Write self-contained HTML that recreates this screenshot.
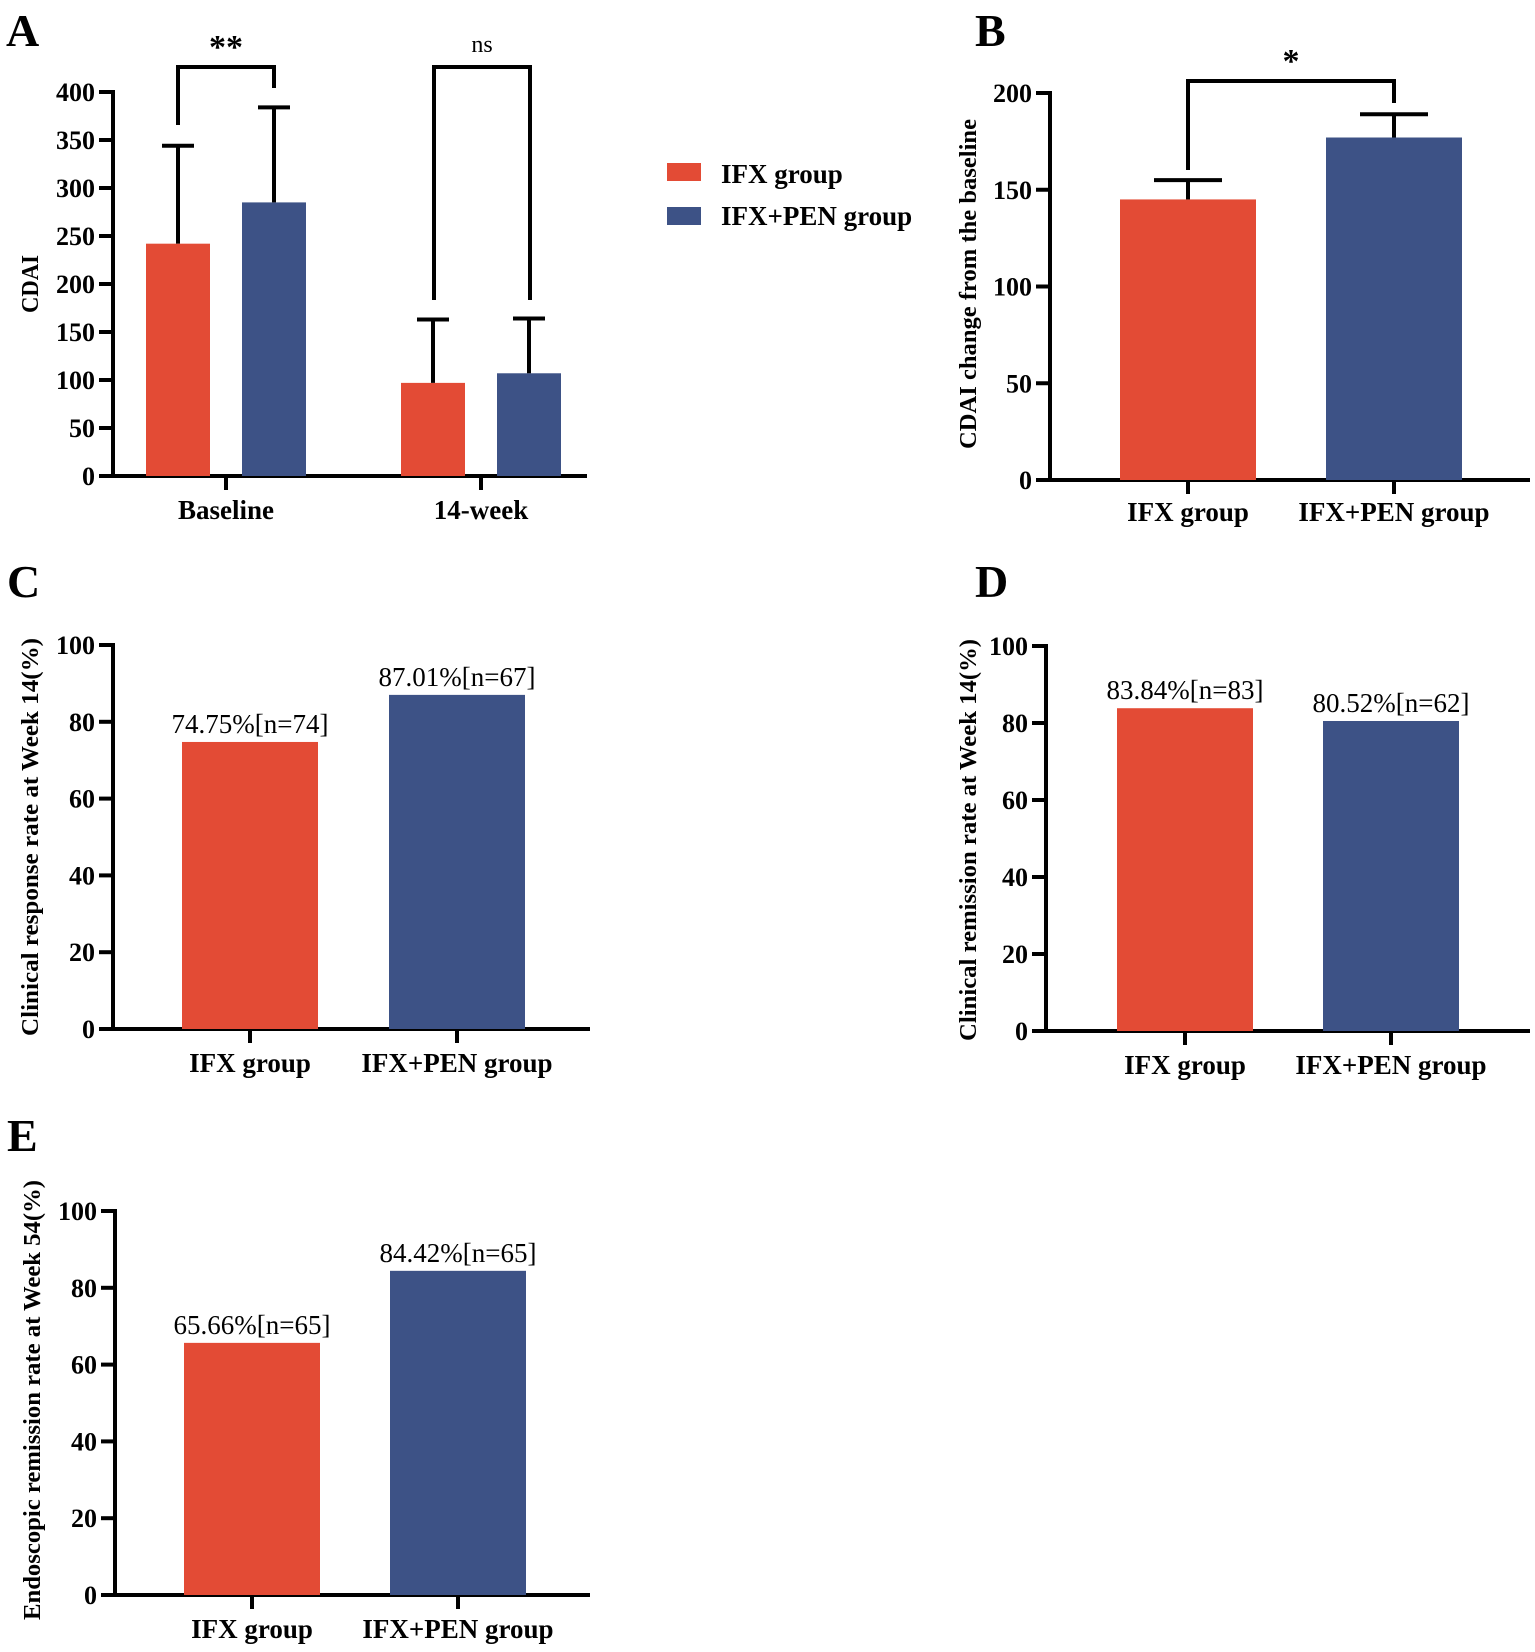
<!DOCTYPE html>
<html><head><meta charset="utf-8">
<style>
html,body{margin:0;padding:0;background:#fff;}
svg{display:block;font-family:"Liberation Serif","Times New Roman",serif;}
</style></head>
<body>
<svg id="chart" width="1535" height="1652" viewBox="0 0 1535 1652" xmlns="http://www.w3.org/2000/svg"></svg>
<script>
const groups = ["IFX group", "IFX+PEN group"];
const colors = ["#E34B35", "#3D5286"];
// Panel A
const aCategories = ["Baseline", "14-week"];
const aMeans = [[242, 285], [97, 107]];
const aErrTop = [[344, 384], [163, 164]];
const aTicks = [0, 50, 100, 150, 200, 250, 300, 350, 400];
const aSig = ["**", "ns"];
// Panel B
const bMeans = [145, 177];
const bErrTop = [155, 189];
const bTicks = [0, 50, 100, 150, 200];
// Panels C, D, E
const cValues = [74.75, 87.01];
const cLabels = ["74.75%[n=74]", "87.01%[n=67]"];
const dValues = [83.84, 80.52];
const dLabels = ["83.84%[n=83]", "80.52%[n=62]"];
const eValues = [65.66, 84.42];
const eLabels = ["65.66%[n=65]", "84.42%[n=65]"];
const pctTicks = [0, 20, 40, 60, 80, 100];

const svg = document.getElementById('chart');
const NS = "http://www.w3.org/2000/svg";
function mk(tag, attrs, parent, text) {
  const e = document.createElementNS(NS, tag);
  for (const k in attrs) e.setAttribute(k, attrs[k]);
  if (text !== undefined) e.textContent = text;
  (parent || svg).appendChild(e);
  return e;
}
function line(x1,y1,x2,y2,p,w){ return mk('line',{x1,y1,x2,y2,stroke:'#000','stroke-width':w||4},p); }

function axes(g, ax, y0, yTop, xEnd, ticks, vmax, catX, cats, labelBase) {
  const ys = v => y0 - (y0 - yTop) * v / vmax;
  const yl = line(ax, yTop-2, ax, y0+2, g);
  
  
  const xl = line(ax-14, y0, xEnd, y0, g);
  
  
  ticks.forEach(t => {
    const tk = line(ax-14, ys(t), ax, ys(t), g);
    
    
    const tl = mk('text', {x: ax-18, y: ys(t)+9, 'text-anchor':'end','font-size':26,'font-weight':'bold'}, g, String(t));
    
    
  });
  catX.forEach((cx, i) => {
    const tk = line(cx, y0, cx, y0+14, g);
    
    
    const cl = mk('text', {x: cx, y: labelBase, 'text-anchor':'middle','font-size':27,'font-weight':'bold'}, g, cats[i]);
    
    
  });
  return ys;
}
function ytitle(g, x, cy, text, len) {
  const t = mk('text', {x: 0, y: 0, transform:`translate(${x},${cy}) rotate(-90)`, 'text-anchor':'middle','font-size':24,'font-weight':'bold', textLength: len, lengthAdjust:'spacingAndGlyphs'}, g, text);
  
  
}
function letter(g, x, y, s) {
  const t = mk('text', {x, y, 'font-size':46,'font-weight':'bold'}, g, s);
  
  
}
function bar(g, cx, hw, ys, v, color) {
  const r = mk('rect', {x: cx-hw, y: ys(v), width: hw*2, height: ys(0)-ys(v), fill: color}, g);
  
  
}
function errbar(g, cx, hw, ys, v, top) {
  const e = mk('g', {}, g);
  
  
  line(cx, ys(v), cx, ys(top), e, 4);
  line(cx-hw/2, ys(top), cx+hw/2, ys(top), e, 4);
}
function bracket(g, x1, x2, yTop, y1, y2, label, ly, fs, bold) {
  const b = mk('path', {d:`M${x1},${y1} V${yTop} H${x2} V${y2}`, fill:'none', stroke:'#000','stroke-width':4}, g);
  
  
  const t = mk('text', {x:(x1+x2)/2, y: ly, 'text-anchor':'middle','font-size':fs,'font-weight':bold?'bold':'normal'}, g, label);
  
  
}

// ---------- Panel A ----------
const gA = mk('g', {});  
letter(gA, 6, 46, 'A');
const aCatX = [226, 481];
const aYs = axes(gA, 113, 476, 92, 587, aTicks, 400, aCatX, aCategories, 519);
ytitle(gA, 38, 284, 'CDAI', 58);
const aOff = [-48, 48], aHw = 32;
aCategories.forEach((c, i) => {
  [0,1].forEach(j => {
    const cx = aCatX[i] + aOff[j];
    bar(gA, cx, aHw, aYs, aMeans[i][j], colors[j]);
    errbar(gA, cx, aHw, aYs, aMeans[i][j], aErrTop[i][j]);
  });
});
bracket(gA, 178, 274, 67, 125, 88, aSig[0], 58, 34, true);
bracket(gA, 434, 530, 67, 300, 300, aSig[1], 52, 24, false);

// Legend
const gL = mk('g', {});  
[[163,182],[207,224]].forEach((p, i) => {
  const sw = mk('rect', {x:667, y:p[0], width:34, height:18, fill:colors[i]}, gL);
  
  
  const t = mk('text', {x:721, y:p[1]+1, 'font-size':27,'font-weight':'bold'}, gL, groups[i]);
  
  
});

// ---------- Panel B ----------
const gB = mk('g', {});  
letter(gB, 975, 46, 'B');
const bCatX = [1188, 1394];
const bYs = axes(gB, 1050, 480, 93, 1530, bTicks, 200, bCatX, groups, 521);
ytitle(gB, 976, 284, 'CDAI change from the baseline', 330);
bCatX.forEach((cx, i) => {
  bar(gB, cx, 68, bYs, bMeans[i], colors[i]);
  errbar(gB, cx, 68, bYs, bMeans[i], bErrTop[i]);
});
bracket(gB, 1188, 1394, 81, 170, 103, '*', 72, 34, true);

// ---------- Percent panels ----------
function pctPanel(name, L, lx, ly, ax, y0, yTop, xEnd, catX, hw, vals, labs, labelBase, tx, tcy, title, tlen) {
  const g = mk('g', {});
  
  
  letter(g, lx, ly, L);
  const ys = axes(g, ax, y0, yTop, xEnd, pctTicks, 100, catX, groups, labelBase);
  ytitle(g, tx, tcy, title, tlen);
  catX.forEach((cx, i) => {
    bar(g, cx, hw, ys, vals[i], colors[i]);
    const t = mk('text', {x: cx, y: ys(vals[i]) - 9, 'text-anchor':'middle','font-size':27}, g, labs[i]);
    
    
  });
}
pctPanel('panel-c', 'C', 7, 597, 113, 1029, 645, 590, [250, 457], 68, cValues, cLabels, 1072, 38, 837, 'Clinical response rate at Week 14(%)', 398);
pctPanel('panel-d', 'D', 975, 597, 1046, 1031, 646, 1530, [1185, 1391], 68, dValues, dLabels, 1074, 976, 840, 'Clinical remission rate at Week 14(%)', 402);
pctPanel('panel-e', 'E', 7, 1151, 115, 1595, 1211, 590, [252, 458], 68, eValues, eLabels, 1638, 40, 1400, 'Endoscopic remission rate at Week 54(%)', 440);
</script>
</body></html>
